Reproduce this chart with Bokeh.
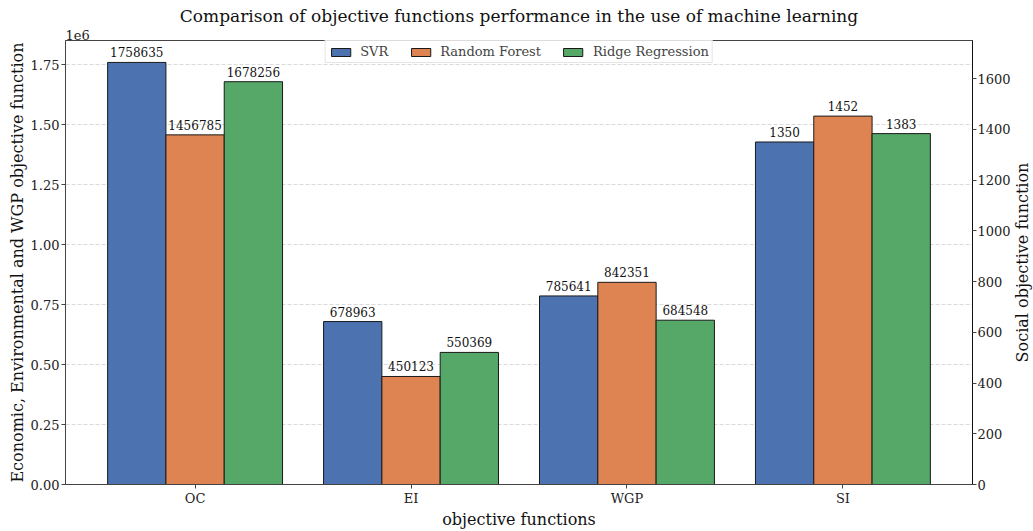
import math
from bokeh.plotting import figure
from bokeh.layouts import row
from bokeh.models import (ColumnDataSource, Range1d, LinearAxis, FixedTicker,
                          Legend, LegendItem, Title)
from bokeh.core.properties import value
from bokeh.embed import file_html
from bokeh.resources import INLINE

# Objective values per model
categories = ["OC", "EI", "WGP", "SI"]
models = ["SVR", "Random Forest", "Ridge Regression"]
svr = [1758635, 678963, 785641, 1350]
random_forest = [1456785, 450123, 842351, 1452]
ridge = [1678256, 550369, 684548, 1383]
colors = ["#4C72B0", "#DD8452", "#55A868"]

left_ticks = [0, 250000, 500000, 750000, 1000000, 1250000, 1500000, 1750000]
right_ticks = [0, 200, 400, 600, 800, 1000, 1200, 1400, 1600]
right_title = "Social objective function"

FONT = "DejaVu Serif"
bar_w = 0.27
TOP, BOTTOM = 40, 47

fig = figure(width=1013, height=531, output_backend="svg", toolbar_location=None,
             x_range=Range1d(-0.6, 3.6), y_range=Range1d(0, 1.85e6),
             min_border_left=65, min_border_right=37, min_border_top=TOP,
             min_border_bottom=BOTTOM)
fig.extra_y_ranges = {"social": Range1d(0, 1750)}
fig.title = None

# offset text of the left axis, sitting just above the frame
fig.add_layout(Title(text="1e6", align="left", text_font=FONT, text_font_size="13px",
                     text_font_style="normal", text_color="#222222",
                     offset=0, standoff=2), "above")
fig.add_layout(Title(text="Comparison of objective functions performance in the use of machine learning",
                     align="center", text_font=FONT, text_font_size="17px",
                     text_font_style="normal", text_color="#111111",
                     offset=7, standoff=2), "above")

fig.outline_line_color = "#444444"
fig.outline_line_width = 1
fig.background_fill_color = "white"
fig.border_fill_color = "white"

fig.xgrid.visible = False
fig.ygrid.ticker = FixedTicker(ticks=left_ticks)
fig.ygrid.grid_line_color = "#d0d0d0"
fig.ygrid.grid_line_dash = "4 2"
fig.ygrid.grid_line_width = 0.8

# x axis
fig.xaxis.ticker = FixedTicker(ticks=list(range(len(categories))))
fig.xaxis.major_label_overrides = {i: c for i, c in enumerate(categories)}
fig.xaxis.axis_label = "objective functions"

# left axis in units of 1e6
fig.yaxis.ticker = FixedTicker(ticks=left_ticks)
fig.yaxis.major_label_overrides = {t: f"{t / 1e6:.2f}" for t in left_ticks}
fig.yaxis.axis_label = "Economic, Environmental and WGP objective function"

right_axis = LinearAxis(y_range_name="social", ticker=FixedTicker(ticks=right_ticks))
fig.add_layout(right_axis, "right")

for ax in fig.axis:
    ax.major_label_text_font = FONT
    ax.major_label_text_font_size = "13px"
    ax.major_label_text_color = "#222222"
    ax.major_label_standoff = 2
    ax.axis_label_text_font = FONT
    ax.axis_label_text_font_size = "16px"
    ax.axis_label_text_font_style = "normal"
    ax.axis_label_text_color = "#111111"
    ax.minor_tick_line_color = None
    ax.major_tick_out = 4
    ax.major_tick_in = 0
    ax.axis_line_color = "#444444"
    ax.major_tick_line_color = "#444444"
    ax.axis_label_standoff = 1
right_axis.axis_line_color = "#111111"
right_axis.major_label_standoff = 1

series = [svr, random_forest, ridge]
legend_items = []
for k, (name, vals, col) in enumerate(zip(models, series, colors)):
    off = (k - 1) * bar_w
    xs = [i + off for i in range(3)]
    src = ColumnDataSource(dict(x=xs, top=vals[:3], lab=[str(v) for v in vals[:3]]))
    r = fig.vbar(x="x", top="top", width=bar_w, source=src, fill_color=col,
                 line_color="#1a1a1a", line_width=1)
    fig.text(x="x", y="top", text="lab", source=src, text_align="center",
             text_baseline="bottom", y_offset=-5, text_font=value(FONT),
             text_font_size="12px", text_color="#111111")
    src2 = ColumnDataSource(dict(x=[3 + off], top=[vals[3]], lab=[str(vals[3])]))
    fig.vbar(x="x", top="top", width=bar_w, source=src2, fill_color=col,
             line_color="#1a1a1a", line_width=1, y_range_name="social")
    fig.text(x="x", y="top", text="lab", source=src2, text_align="center",
             text_baseline="bottom", y_offset=-5, text_font=value(FONT),
             text_font_size="12px", text_color="#111111", y_range_name="social")
    legend_items.append(LegendItem(label=name, renderers=[r]))

legend = Legend(items=legend_items, orientation="horizontal", location="top_center",
                label_text_font=FONT, label_text_font_size="13px",
                glyph_width=24, glyph_height=10, spacing=20, padding=3, margin=0,
                border_line_color="#cccccc", background_fill_alpha=0.9,
                label_standoff=8, label_height=12)
fig.add_layout(legend, "center")

# narrow strip carrying the right-hand axis title, read bottom to top
side = figure(width=20, height=531, output_backend="svg", toolbar_location=None,
              x_range=Range1d(0, 1), y_range=Range1d(0, 1),
              x_axis_type=None, y_axis_type=None,
              min_border_left=0, min_border_right=0, min_border_top=TOP,
              min_border_bottom=BOTTOM)
side.grid.visible = False
side.outline_line_color = None
side.text(x=[0.45], y=[0.5], text=[right_title], angle=math.pi / 2,
          text_align="center", text_baseline="middle", text_font=value(FONT),
          text_font_size="16px", text_color="#111111")

p = row(fig, side, spacing=0)

open("out.html", "w").write(file_html(p, INLINE))
